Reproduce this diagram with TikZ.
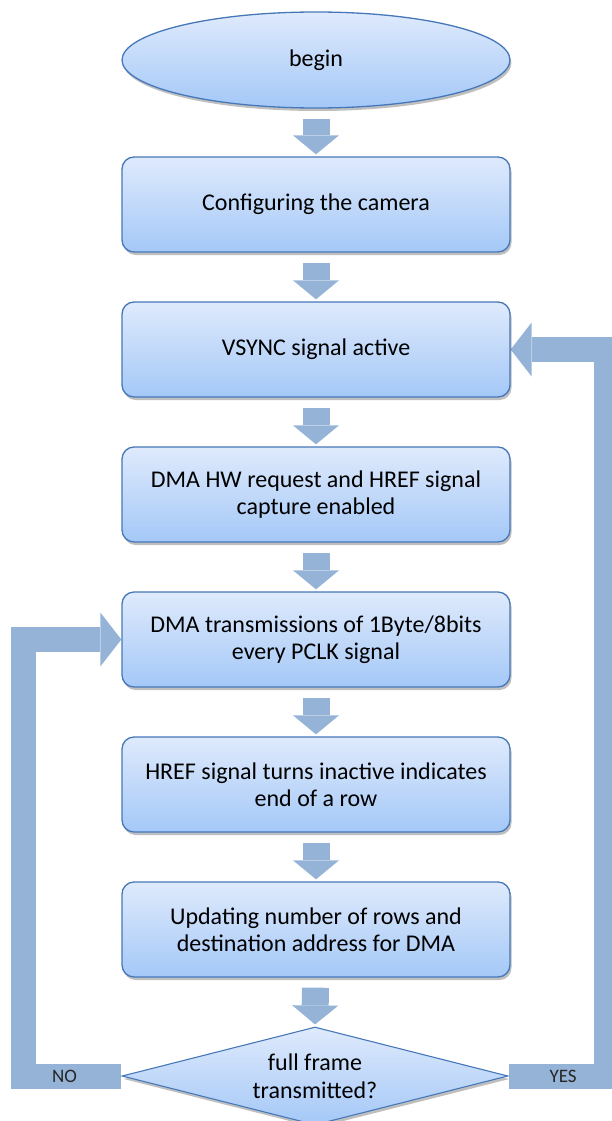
\documentclass[tikz,border=0pt]{standalone}
\usepackage{fontspec}
\setmainfont{Carlito}
\usetikzlibrary{shapes.geometric,arrows.meta,shadows,backgrounds}
\definecolor{boxtop}{RGB}{223,234,252}
\definecolor{boxbot}{RGB}{164,200,247}
\definecolor{boxline}{RGB}{70,120,185}
\definecolor{arrowfill}{RGB}{149,179,215}
\begin{document}
\begin{tikzpicture}[x=1pt,y=-1pt,
  shadowed/.style={drop shadow={shadow xshift=1.5pt,shadow yshift=-3pt,opacity=0.25,fill=black}},
  blockbox/.style={rectangle,rounded corners=12pt,minimum width=388pt,minimum height=95pt,
    inner sep=0pt,draw=boxline,line width=1.3pt,top color=boxtop,bottom color=boxbot,
    align=center,font=\fontsize{24}{27.5}\selectfont,shadowed},
  startshape/.style={ellipse,minimum width=388pt,minimum height=96pt,inner sep=0pt,
    draw=boxline,line width=1.3pt,top color=boxtop,bottom color=boxbot,
    font=\fontsize{24}{27.5}\selectfont,shadowed},
  decide/.style={diamond,aspect=3.9,minimum width=386pt,minimum height=98pt,inner sep=0pt,
    draw=boxline,line width=1.1pt,top color=boxtop,bottom color=boxbot,align=center,
    font=\fontsize{24}{27.5}\selectfont,shadowed},
  dnarrow/.style={draw=arrowfill,line width=27pt,shorten <=10pt,shorten >=2pt,
    -{Triangle[width=46pt,length=19pt,line width=0pt]}},
  fbarrow/.style={draw=arrowfill,line width=25pt,line join=miter,
    -{Triangle[width=54pt,length=21pt,line width=0pt]}},
  fblabel/.style={font=\fontsize{19}{21}\selectfont,inner sep=0pt,text=black!85}]
\useasboundingbox (0,0) rectangle (612,1121);

\node[startshape] (e) at (316,60) {begin};
\node[blockbox] (b1) at (316,204.5) {Configuring the camera};
\node[blockbox] (b2) at (316,349.5) {VSYNC signal active};
\node[blockbox] (b3) at (316,494.5) {DMA HW request and HREF signal\\capture enabled};
\node[blockbox] (b4) at (316,639.5) {DMA transmissions of 1Byte/8bits\\every PCLK signal};
\node[blockbox] (b5) at (316,784.5) {HREF signal turns inactive indicates\\end of a row};
\node[blockbox] (b6) at (316,929.5) {Updating number of rows and\\destination address for DMA};
\node[decide] (d) at (315,1076) {full frame\\transmitted?};

\coordinate (nocorner) at (23.5,1076);
\coordinate (yescorner) at (606,1076);

\begin{scope}[on background layer]
\draw[dnarrow] (e) -- (b1);
\draw[dnarrow] (b1) -- (b2);
\draw[dnarrow] (b2) -- (b3);
\draw[dnarrow] (b3) -- (b4);
\draw[dnarrow] (b4) -- (b5);
\draw[dnarrow] (b5) -- (b6);
\draw[dnarrow] (b6) -- (d.north);
\draw[fbarrow] (d.west) -- node[fblabel,pos=0.58] (nolab) {NO} (nocorner) |- (b4.west);
\draw[fbarrow] (d.east) -- node[fblabel,pos=0.56] (yeslab) {YES} (yescorner) |- (b2.east);
\end{scope}
\end{tikzpicture}
\end{document}
